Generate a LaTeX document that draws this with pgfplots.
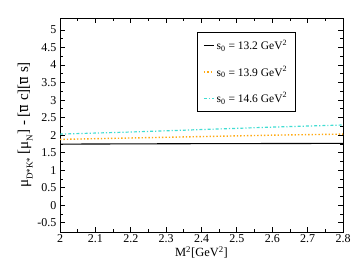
\documentclass[border=0pt]{standalone}
\usepackage{pgfplots}
\pgfplotsset{compat=1.18}
\usepackage{fontspec}
\setmainfont{Liberation Serif}
\definecolor{myorange}{RGB}{255,170,20}
\definecolor{mycyan}{RGB}{64,220,210}
\newcommand{\sub}[1]{\raisebox{-0.3em}{\fontsize{9}{10}\selectfont #1}}
\begin{document}
\begin{tikzpicture}
\begin{axis}[
  scale only axis,
  width=283pt, height=214pt,
  xmin=2, xmax=2.8, ymin=-0.76, ymax=5.34,
  xtick={2,2.1,...,2.8},
  xticklabels={2,2.1,2.2,2.3,2.4,2.5,2.6,2.7,2.8},
  ytick={-0.5,0,...,5},
  yticklabels={-0.5,0,0.5,1,1.5,2,2.5,3,3.5,4,4.5,5},
  minor x tick num=1, minor y tick num=1,
  tick align=inside,
  major tick length=5pt, minor tick length=3pt,
  every tick/.style={black, line width=0.8pt},
  axis line style={line width=1pt},
  tick label style={font=\fontsize{12}{14}\selectfont},
  xticklabel style={yshift=1pt},
  /pgf/number format/assume math mode=true,
  xlabel={M\textsuperscript{2}[GeV\textsuperscript{2}]},
  ylabel={\fontsize{15}{17}\selectfont μ\sub{D*K*} [μ\sub{N}] - [$\overline{\mbox{u}}$ c][$\overline{\mbox{u}}$ s]},
  label style={font=\fontsize{12.5}{14}\selectfont},
  xlabel style={yshift=3pt},
  ylabel style={yshift=-2pt},
  legend style={at={(0.484,0.935)}, anchor=north west, draw=black, line width=0.6pt,
    font=\fontsize{11.5}{13}\selectfont, row sep=11pt, inner sep=6pt},
  legend cell align=left,
  legend image code/.code={\draw[#1] (0cm,0cm) -- (0.35cm,0cm);},
]
\addplot[black, line width=1.1pt] coordinates {(2,1.745) (2.2,1.752) (2.4,1.758) (2.6,1.762) (2.8,1.766)};
\addlegendentry{s\textsubscript{0} = 13.2 GeV\textsuperscript{2}}
\addplot[myorange, line width=1.4pt, dotted] coordinates {(2,1.88) (2.2,1.92) (2.4,1.96) (2.6,2.0) (2.8,2.03)};
\addlegendentry{s\textsubscript{0} = 13.9 GeV\textsuperscript{2}}
\addplot[mycyan, line width=1.2pt, dash dot] coordinates {(2,2.03) (2.2,2.09) (2.4,2.16) (2.6,2.23) (2.8,2.29)};
\addlegendentry{s\textsubscript{0} = 14.6 GeV\textsuperscript{2}}
\end{axis}
\path ([shift={(-60pt,-44pt)}]current axis.south west) rectangle ([shift={(14pt,18pt)}]current axis.north east);
\end{tikzpicture}
\end{document}
